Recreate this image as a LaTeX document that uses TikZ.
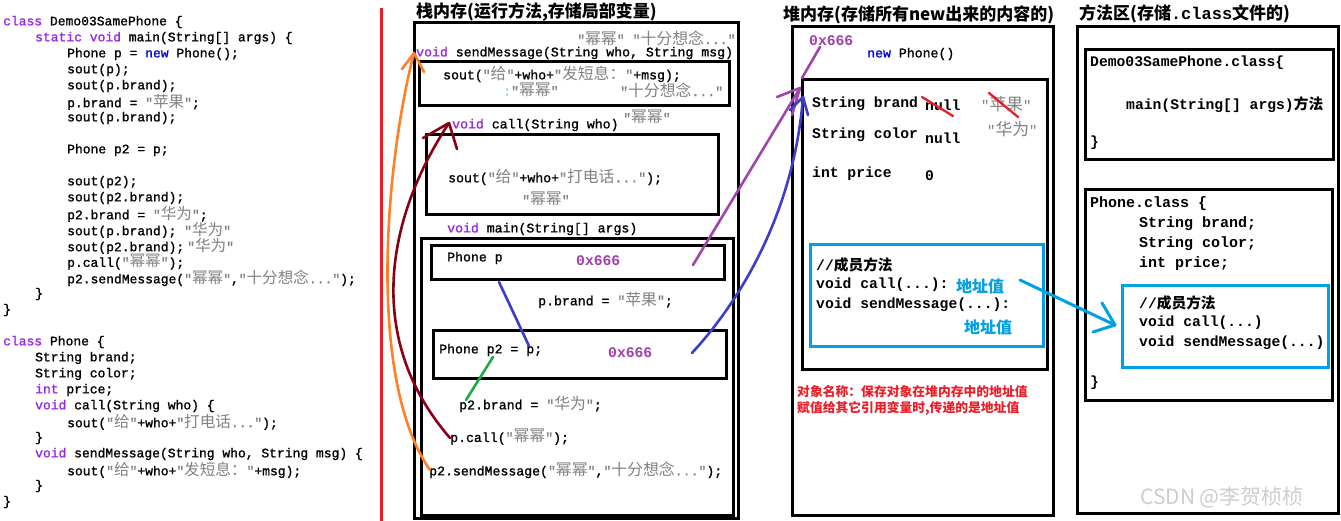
\documentclass[tikz,border=0pt]{standalone}
\usepackage{fontspec}
\usepackage{xcolor}
\newfontfamily\mono{Liberation Mono}
\newfontfamily\monom[FakeBold=1.2]{Liberation Mono}
\newfontfamily\cjk[Scale=1.2]{Noto Sans CJK SC}
\newfontfamily\cjkt{Noto Sans CJK SC}
\definecolor{kwc}{RGB}{150,40,230}
\definecolor{newc}{RGB}{0,0,230}
\definecolor{strc}{RGB}{130,130,130}
\definecolor{addrc}{RGB}{160,64,170}
\definecolor{bluec}{RGB}{0,160,228}
\definecolor{redc}{RGB}{235,30,40}
\definecolor{arrpurple}{RGB}{160,70,170}
\definecolor{arrblue}{RGB}{60,60,205}
\definecolor{arrgreen}{RGB}{30,170,70}
\definecolor{arrmaroon}{RGB}{135,0,20}
\definecolor{arrorange}{RGB}{255,128,40}
\definecolor{wmark}{RGB}{205,205,205}
\newcommand\kw[1]{\textcolor{kwc}{#1}}
\newcommand\gs[1]{\textcolor{strc}{#1}}
\newcommand\zh[1]{{\cjk #1}}
\begin{document}
\begin{tikzpicture}[x=1pt,y=-1pt,
  code/.style={anchor=west,inner sep=0pt,font=\monom\fontsize{13}{15}\selectfont},
  scode/.style={anchor=west,inner sep=0pt,font=\monom\fontsize{13.2}{15}\selectfont},
  hcode/.style={anchor=west,inner sep=0pt,font=\mono\bfseries\fontsize{14.7}{17}\selectfont},
  hstr/.style={anchor=west,inner sep=0pt,font=\mono\fontsize{14}{17}\selectfont},
  mcode/.style={anchor=west,inner sep=0pt,font=\mono\bfseries\fontsize{15}{17}\selectfont},
  title/.style={anchor=west,inner sep=0pt,font=\cjkt\bfseries\fontsize{17}{20}\selectfont},
  addr/.style={anchor=west,inner sep=0pt,text=addrc,font=\mono\bfseries\fontsize{14.7}{17}\selectfont},
  addrv/.style={anchor=west,inner sep=0pt,text=bluec,font=\cjkt\bfseries\fontsize{16}{18}\selectfont},
  note/.style={anchor=west,inner sep=0pt,text=redc,font=\cjkt\bfseries\fontsize{12.8}{15}\selectfont},
  box/.style={draw=black,line width=3pt},
  bbox/.style={draw=bluec,line width=3pt},
  hand/.style={line width=2.6pt,line cap=round,line join=round},
]
\useasboundingbox (0,0) rectangle (1341,521);
\fill[white] (0,0) rectangle (1341,521);

% ---------- left source code ----------
\node[code] (c1)  at (3,22)   {\kw{class} Demo03SamePhone \{};
\node[code] (c2)  at (35,38)  {\kw{static} \kw{void} main(String[] args) \{};
\node[code] (c3)  at (67,54)  {Phone p = \textcolor{newc}{new} Phone();};
\node[code] (c4)  at (67,70)  {sout(p);};
\node[code] (c5)  at (67,86)  {sout(p.brand);};
\node[code] (c6)  at (67,102) {p.brand = \gs{"\zh{苹果}"};};
\node[code] (c7)  at (67,118) {sout(p.brand);};
\node[code] (c8)  at (67,150) {Phone p2 = p;};
\node[code] (c9)  at (67,182) {sout(p2);};
\node[code] (c10) at (67,198) {sout(p2.brand);};
\node[code] (c11) at (67,214) {p2.brand = \gs{"\zh{华为}"};};
\node[code] (c12) at (67,230) {sout(p.brand); \gs{"\zh{华为}"}};
\node[code] (c13) at (67,246) {sout(p2.brand);\kern3pt\gs{"\zh{华为}"}};
\node[code] (c14) at (67,262) {p.call(\gs{"\zh{幂幂}"});};
\node[code] (c15) at (67,278) {p2.sendMessage(\gs{"\zh{幂幂}"},\gs{"\zh{十分想念}..."});};
\node[code] (c16) at (35,294) {\}};
\node[code] (c17) at (3,310)  {\}};
\node[code] (c18) at (3,342)  {\kw{class} Phone \{};
\node[code] (c19) at (35,358) {String brand;};
\node[code] (c20) at (35,374) {String color;};
\node[code] (c21) at (35,390) {\kw{int} price;};
\node[code] (c22) at (35,406) {\kw{void} call(String who) \{};
\node[code] (c23) at (67,422) {sout(\gs{"\zh{给}"}+who+\gs{"\zh{打电话}..."});};
\node[code] (c24) at (35,438) {\}};
\node[code] (c25) at (35,454) {\kw{void} sendMessage(String who, String msg) \{};
\node[code] (c26) at (67,470) {sout(\gs{"\zh{给}"}+who+\gs{"\zh{发短息：}"}+msg);};
\node[code] (c27) at (35,486) {\}};
\node[code] (c28) at (3,502)  {\}};

% red separator
\draw[redc,line width=3pt] (381,8) -- (381,521);

% ---------- stack ----------
\node[title] (tstack) at (416,12) {栈内存(运行方法,存储局部变量)};
\draw[box] (414,23) rectangle (738,518);
\draw[box] (419,62) rectangle (729,106);
\draw[box] (426,135) rectangle (718,215);
\draw[box] (421,239) rectangle (733,515);
\draw[box] (431,246) rectangle (724,280);
\draw[box] (433,330) rectangle (726,378);

\node[scode] (s0) at (577,38) {\gs{"\zh{幂幂}" "\zh{十分想念}..."}};
\node[scode] (s1) at (416,53) {\kw{void} sendMessage(String who, String msg)};
\node[scode] (s2) at (443,74) {sout(\gs{"\zh{给}"}+who+\gs{"\zh{发短息：}"}+msg);};
\node[scode] (s3) at (503,90) {\textcolor{bluec!50}{:}\gs{"\zh{幂幂}"}};
\node[scode] (s4) at (620,90) {\gs{"\zh{十分想念}..."}};
\node[scode] (s5) at (452,125) {\kw{void} call(String who)};
\node[scode] (s6) at (623,117) {\gs{"\zh{幂幂}"}};
\node[scode] (s7) at (448,177) {sout(\gs{"\zh{给}"}+who+\gs{"\zh{打电话}..."});};
\node[scode] (s8) at (522,199) {\gs{"\zh{幂幂}"}};
\node[scode] (s9) at (447,229) {\kw{void} main(String[] args)};
\node[scode] (s10) at (447,258) {Phone p};
\node[addr] (s11) at (576,261) {0x666};
\node[scode] (s12) at (538,300) {p.brand = \gs{"\zh{苹果}"};};
\node[scode] (s13) at (439,350) {Phone p2 = p;};
\node[addr] (s14) at (608,353) {0x666};
\node[scode] (s15) at (459,404) {p2.brand = \gs{"\zh{华为}"};};
\node[scode] (s16) at (450,437) {p.call(\gs{"\zh{幂幂}"});};
\node[scode] (s17) at (429,470) {p2.sendMessage(\gs{"\zh{幂幂}"},\gs{"\zh{十分想念}..."});};

% ---------- heap ----------
\node[title] (theap) at (783,15) {堆内存(存储所有new出来的内容的)};
\draw[box] (792,27) rectangle (1053,515);
\draw[box] (802,80) rectangle (1047,369);
\draw[bbox] (810,245) rectangle (1043,346);
\node[addr] (h0) at (809,41) {0x666};
\node[scode] (h1) at (867,54) {\textcolor{newc}{new} Phone()};
\node[hcode] (h2) at (812,104) {String brand};
\node[hcode] (h3) at (925,105) {null};
\node[hstr] (h4) at (981,104) {\gs{"\zh{苹果}"}};
\node[hstr] (h5) at (987,129) {\gs{"\zh{华为}"}};
\node[hcode] (h6) at (812,135) {String color};
\node[hcode] (h7) at (925,138) {null};
\node[hcode] (h8) at (812,174) {int price};
\node[hcode] (h9) at (925,176) {0};
\node[hcode] (h10) at (816,265) {//{\cjkt 成员方法}};
\node[hcode] (h11) at (816,285) {void call(...):};
\node[addrv] (h12) at (956,286) {地址值};
\node[hcode] (h13) at (816,305) {void sendMessage(...):};
\node[addrv] (h14) at (964,327) {地址值};
\node[note] (h15) at (797,392) {对象名称：保存对象在堆内存中的地址值};
\node[note] (h16) at (797,408) {赋值给其它引用变量时,传递的是地址值};
\draw[redc,hand,line width=2.3pt] (922,97) -- (953,116);
\draw[redc,hand,line width=2.3pt] (989,93) -- (1018,117);

% ---------- method area ----------
\node[title] (tmeth) at (1079,14) {方法区(存储{\mono .class}文件的)};
\draw[box] (1077,27) rectangle (1338,513);
\draw[box] (1085,50) rectangle (1333,160);
\draw[box] (1085,190) rectangle (1332,400);
\draw[bbox] (1122,286) rectangle (1328,367);
\node[hcode] (m1) at (1090,63) {Demo03SamePhone.class\{};
\node[hcode] (m2) at (1126,105) {main(String[] args){\cjkt 方法}};
\node[hcode] (m3) at (1090,143) {\}};
\node[mcode] (m4) at (1090,204) {Phone.class \{};
\node[mcode] (m5) at (1139,224) {String brand;};
\node[mcode] (m6) at (1139,244) {String color;};
\node[mcode] (m7) at (1139,264) {int price;};
\node[hcode] (m8) at (1139,303) {//{\cjkt 成员方法}};
\node[hcode] (m9) at (1139,323) {void call(...)};
\node[hcode] (m10) at (1139,343) {void sendMessage(...)};
\node[hcode] (m11) at (1090,383) {\}};
\node[anchor=west,inner sep=0pt,text=wmark,font=\cjkt\fontsize{21}{24}\selectfont] (wm) at (1140,497) {CSDN @李贺桢桢};

% ---------- connectors ----------
\coordinate (pA) at (499,282);  \coordinate (pB) at (529,346);
\draw[arrblue,hand] (pA) -- (pB);
\coordinate (gA) at (493,357);  \coordinate (gB) at (466,400);
\draw[arrgreen,hand] (gA) -- (gB);

% p.call -> void call
\coordinate (mS) at (450,438); \coordinate (mT) at (449,123);
\draw[arrmaroon,hand] (mS) .. controls (365,340) and (385,220) .. (mT);
\draw[arrmaroon,hand] (423,138) -- (mT) -- (457,149);

% p2.sendMessage -> void sendMessage
\coordinate (oS) at (430,470); \coordinate (oT) at (414,53);
\draw[arrorange,hand] (oS) .. controls (366,378) and (386,160) .. (oT);
\draw[arrorange,hand] (402,69) -- (oT) -- (424,72);

% p -> heap object
\coordinate (uS) at (693,265); \coordinate (uT) at (800,88);
\draw[arrpurple,hand] (uS) -- (uT);
\draw[arrpurple,hand] (777,97) -- (uT) -- (792,115);
\coordinate (uA) at (802,78); \coordinate (uB) at (820,47);
\draw[arrpurple,hand] (uA) -- (uB);

% p2 -> heap object
\coordinate (bS) at (692,353); \coordinate (bT) at (803,97);
\draw[arrblue,hand] (bS) .. controls (750,290) and (795,200) .. (bT);
\draw[arrblue,hand] (790,110) -- (bT) -- (808,115);

% heap method address -> method area
\coordinate (cS) at (1020,280); \coordinate (cT) at (1115,325);
\draw[bluec,hand,line width=3pt] (cS) -- (cT);
\draw[bluec,hand,line width=3pt] (1102,303) -- (cT) -- (1093,332);
\end{tikzpicture}
\end{document}
